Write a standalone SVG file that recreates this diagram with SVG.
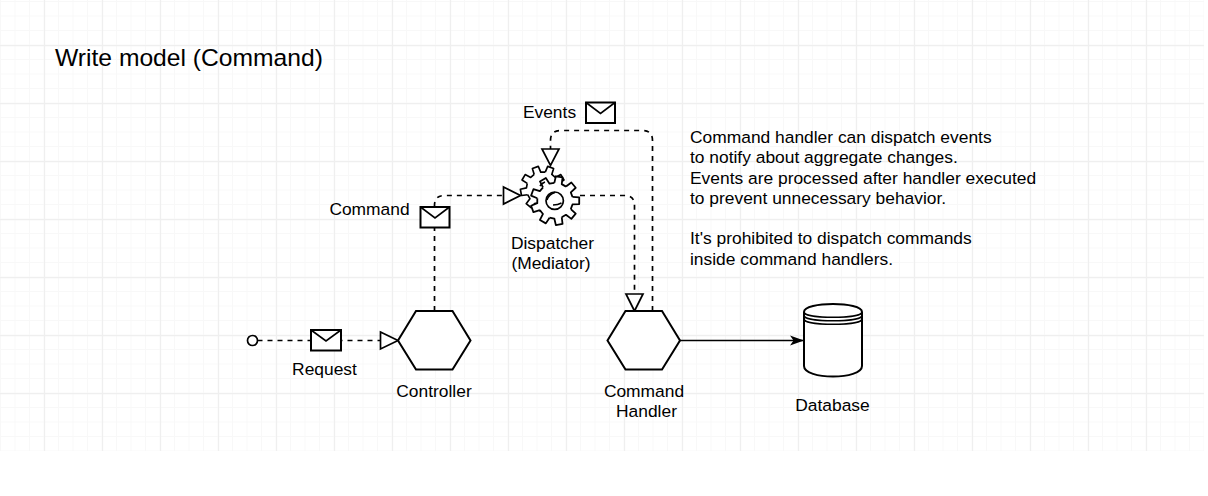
<svg xmlns="http://www.w3.org/2000/svg" xmlns:xlink="http://www.w3.org/1999/xlink" width="1208" height="496" viewBox="0 0 1208 496">
<style>
text{font-family:"Liberation Sans",Arial,sans-serif;font-size:17.4px;fill:#000}
.c{text-anchor:middle}
.ln{fill:none;stroke:#000;stroke-width:1.6}
.sh{fill:#fff;stroke:#000;stroke-width:2}
.dash{fill:none;stroke:#000;stroke-width:1.7;stroke-dasharray:5 5}
.tri{fill:#fff;stroke:#000;stroke-width:1.7}
.env{fill:#fff;stroke:#000;stroke-width:2}
.gear{fill:#fff;stroke:#000;stroke-width:1.9;stroke-linejoin:round}
</style>
<defs>
<pattern id="minor" patternUnits="userSpaceOnUse" x="0" y="1" width="14.5" height="14.5"><path d="M0.5 0V14.5M0 0.5H14.5" fill="none" stroke="#f8f8f8" stroke-width="1"/></pattern>
<pattern id="major" patternUnits="userSpaceOnUse" x="44" y="45" width="58" height="58"><path d="M0.5 0V58M0 0.5H58" fill="none" stroke="#efefef" stroke-width="1.3"/></pattern>
<path id="tooth" d="M18.6-4L25.75-3.62L25.75 3.62L18.6 4L16.78 8.92"/>
<g id="gearshape">
<circle r="19" fill="#fff" stroke="none"/>
<use xlink:href="#tooth"/><use xlink:href="#tooth" transform="rotate(40)"/><use xlink:href="#tooth" transform="rotate(80)"/><use xlink:href="#tooth" transform="rotate(120)"/><use xlink:href="#tooth" transform="rotate(160)"/><use xlink:href="#tooth" transform="rotate(200)"/><use xlink:href="#tooth" transform="rotate(240)"/><use xlink:href="#tooth" transform="rotate(280)"/><use xlink:href="#tooth" transform="rotate(320)"/>
</g>
<marker id="open" markerUnits="userSpaceOnUse" markerWidth="16" markerHeight="12" refX="15" refY="6" orient="auto"><path d="M1 1L15 6L1 11L4.5 6Z" fill="#000"/></marker>
</defs>
<rect id="grid-minor" x="0" y="0" width="1204" height="451" fill="url(#minor)"/>
<rect id="grid-major" x="0" y="0" width="1204" height="451" fill="url(#major)"/>
<text id="title" x="55" y="66" style="font-size:24.65px">Write model (Command)</text>
<g id="connectors">
<path class="dash" d="M257.500 340.500H380"/>
<path class="dash" d="M434.500 311V207M434.500 207V205.500Q434.500 195.500 444.500 195.500H504"/>
<path class="dash" d="M580 195.500H624.500Q634.500 195.500 634.500 205.500V294"/>
<path class="dash" d="M652.500 311V140.500Q652.500 130.500 642.500 130.500H560.500Q550.500 130.500 550.500 140.500V149"/>
<path d="M680 340.500H804" fill="none" stroke="#000" stroke-width="1.700" marker-end="url(#open)"/>
<path class="tri" d="M380.500 332L398 340.500L380.500 349Z"/>
<path class="tri" d="M503.500 187L520.500 195.500L503.500 204Z"/>
<path class="tri" d="M626 294L634.500 311L643 294Z"/>
<path class="tri" d="M542 149L550.500 165.500L559 149Z"/>
</g>
<g id="start"><circle cx="252.500" cy="340.500" r="5" fill="#fff" stroke="#000" stroke-width="1.700"/></g>
<g id="request-message"><rect class="env" x="311" y="330" width="30" height="20.500"/><path class="ln" d="M311 330L326 341L341 330"/><text class="c" x="324.500" y="375">Request</text></g>
<g id="command-message"><rect class="env" x="420.500" y="207" width="29" height="20.500"/><path class="ln" d="M420.500 207L435 218L449.500 207"/><text class="c" x="369.500" y="215">Command</text></g>
<g id="events-message"><rect class="env" x="586" y="102.500" width="29" height="20.500"/><path class="ln" d="M586 102.500L600.500 113.500L615 102.500"/><text class="c" x="549.500" y="118">Events</text></g>
<g id="controller"><path class="sh" d="M416 311H452.500L470.500 340.500L452.500 369.500H416L398 340.500Z"/><text class="c" x="434" y="397">Controller</text></g>
<g id="dispatcher">
<g class="gear" transform="translate(543 188.500) rotate(10) scale(.87)"><use xlink:href="#gearshape"/></g>
<g class="gear" transform="translate(555 200.700) scale(.94)"><use xlink:href="#gearshape"/></g>
<circle cx="554.700" cy="200.700" r="8.700" fill="#fff" stroke="#000" stroke-width="1.700"/>
<path class="ln" d="M547 200Q549 194 555 192.500M553 205Q558 205 561.500 203M540 186Q542 183 545 182"/>
<text class="c" x="552.500" y="249">Dispatcher</text>
<text class="c" x="551" y="269">(Mediator)</text>
</g>
<g id="command-handler"><path class="sh" d="M625.500 311H662L680 340.500L662 369.500H625.500L607.500 340.500Z"/><text class="c" x="644" y="397">Command</text><text class="c" x="646.500" y="417">Handler</text></g>
<g id="database"><path class="sh" d="M804 312C804 301.300 862 301.300 862 312V366C862 380 804 380 804 366Z"/><path class="ln" d="M804 312C804 319 862 319 862 312M804 315.500C804 322.500 862 322.500 862 315.500M804 319C804 326 862 326 862 319"/><text class="c" x="832.500" y="411">Database</text></g>
<g id="note">
<text x="690" y="143">Command handler can dispatch events</text>
<text x="690" y="163">to notify about aggregate changes.</text>
<text x="690" y="184">Events are processed after handler executed</text>
<text x="690" y="204">to prevent unnecessary behavior.</text>
<text x="690" y="244">It's prohibited to dispatch commands</text>
<text x="690" y="265">inside command handlers.</text>
</g>
</svg>
